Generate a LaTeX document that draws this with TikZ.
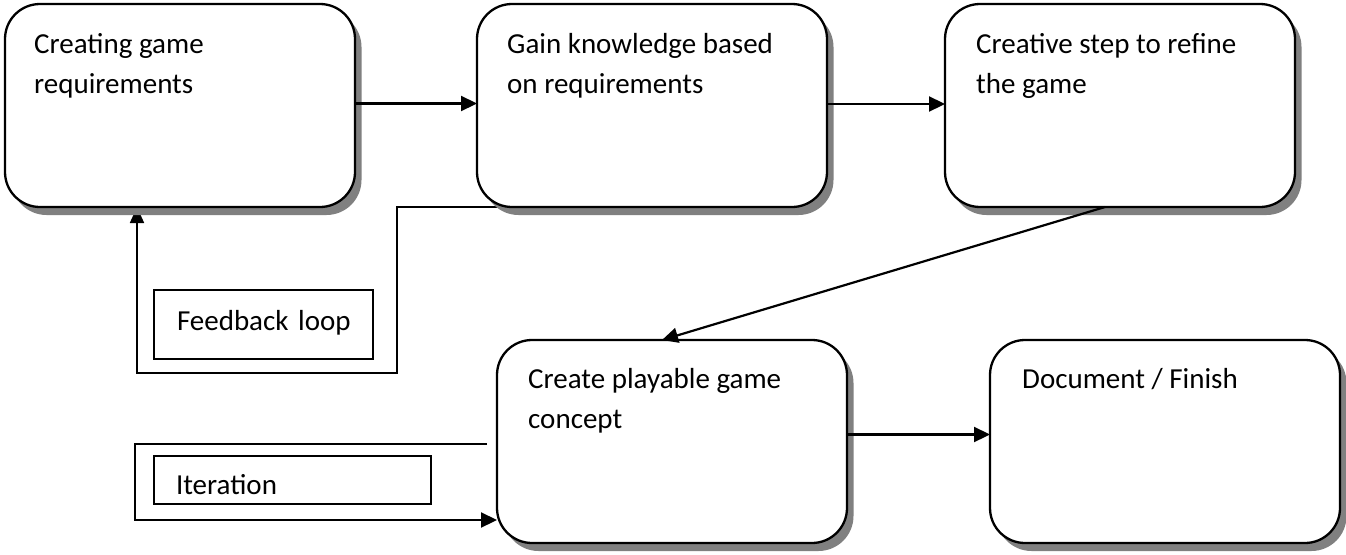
\documentclass[tikz,border=0pt]{standalone}
\usepackage{fontspec}
\setmainfont{Carlito}
\usetikzlibrary{shadows,arrows.meta,calc}
\pgfdeclarelayer{background}
\pgfsetlayers{background,main}
\definecolor{shadowgray}{RGB}{128,128,128}
\tikzset{
  stagebox/.style={draw=black, line width=2.3pt, fill=white, rounded corners=35pt,
    minimum width=350pt, minimum height=203pt, anchor=north west,
    inner sep=0pt, outer sep=0pt,
    drop shadow={shadow xshift=6.5pt, shadow yshift=-8pt, fill=shadowgray, opacity=1}},
  stagetext/.style={anchor=north west, align=left, inner sep=0pt,
    font=\fontsize{29}{40}\selectfont},
  labelbox/.style={draw=black, line width=1.6pt, fill=white, anchor=north west,
    inner sep=0pt, outer sep=0pt, align=left, font=\fontsize{29}{40}\selectfont},
  flow/.style={line width=2.2pt, -{Triangle[length=16pt,width=15pt]}},
  loopline/.style={line width=1.8pt},
}
\begin{document}
\begin{tikzpicture}[x=1pt,y=-1pt]
\useasboundingbox (0,0) rectangle (1346,554);

% stage boxes
\node[stagebox] (b1) at (5,4) {};
\node[stagebox] (b2) at (477,4) {};
\node[stagebox] (b3) at (945,4) {};
\node[stagebox] (b4) at (497,340) {};
\node[stagebox] (b5) at (990,340) {};

% stage texts
\node[stagetext] (t1) at ([xshift=29pt,yshift=-28pt]b1.north west) {\rule{0pt}{21pt}Creating game\\requirements};
\node[stagetext] (t2) at ([xshift=30pt,yshift=-28pt]b2.north west) {\rule{0pt}{21pt}Gain knowledge based\\on requirements};
\node[stagetext] (t3) at ([xshift=31pt,yshift=-28pt]b3.north west) {\rule{0pt}{21pt}Creative step to refine\\the game};
\node[stagetext] (t4) at ([xshift=31pt,yshift=-27pt]b4.north west) {\rule{0pt}{21pt}Create playable game\\concept};
\node[stagetext] (t5) at ([xshift=32pt,yshift=-27pt]b5.north west) {\rule{0pt}{21pt}Document / Finish};

% label boxes
\node[labelbox, minimum width=219pt, minimum height=69pt, text width=219pt,
      text height=20pt, text depth=9pt] (fb) at (154,290) {\hspace*{23pt}Feedback loop};
\node[labelbox, minimum width=277pt, minimum height=48pt, text width=277pt,
      text height=28pt, text depth=0pt] (it) at (154,456) {\hspace*{22pt}Iteration};

% main flow
\draw[flow] ([yshift=2pt]b1.east) -- ([yshift=2pt]b2.west);
\draw[flow] ([yshift=1.5pt]b2.east) -- ([yshift=1.5pt]b3.west);
\draw[flow] ([xshift=-15pt]b3.south) -- ([xshift=-10pt]b4.north);
\draw[flow] ([yshift=7pt]b4.east) -- ([yshift=7pt]b5.west);

% feedback loop (behind boxes)
\begin{pgfonlayer}{background}
\draw[loopline, -{Triangle[length=16pt,width=14pt]}]
  ([xshift=28pt]b2.south west) -| (397,373) -| ([xshift=132pt]b1.south west);
\end{pgfonlayer}

% iteration loop
\coordinate (itstart) at (487,444);
\coordinate (itbend) at (238,520);
\draw[line width=1.5pt] (itstart) -| (135,520) -- (itbend);
\draw[flow] (itbend) -- (b4.west |- itbend);
\end{tikzpicture}
\end{document}
